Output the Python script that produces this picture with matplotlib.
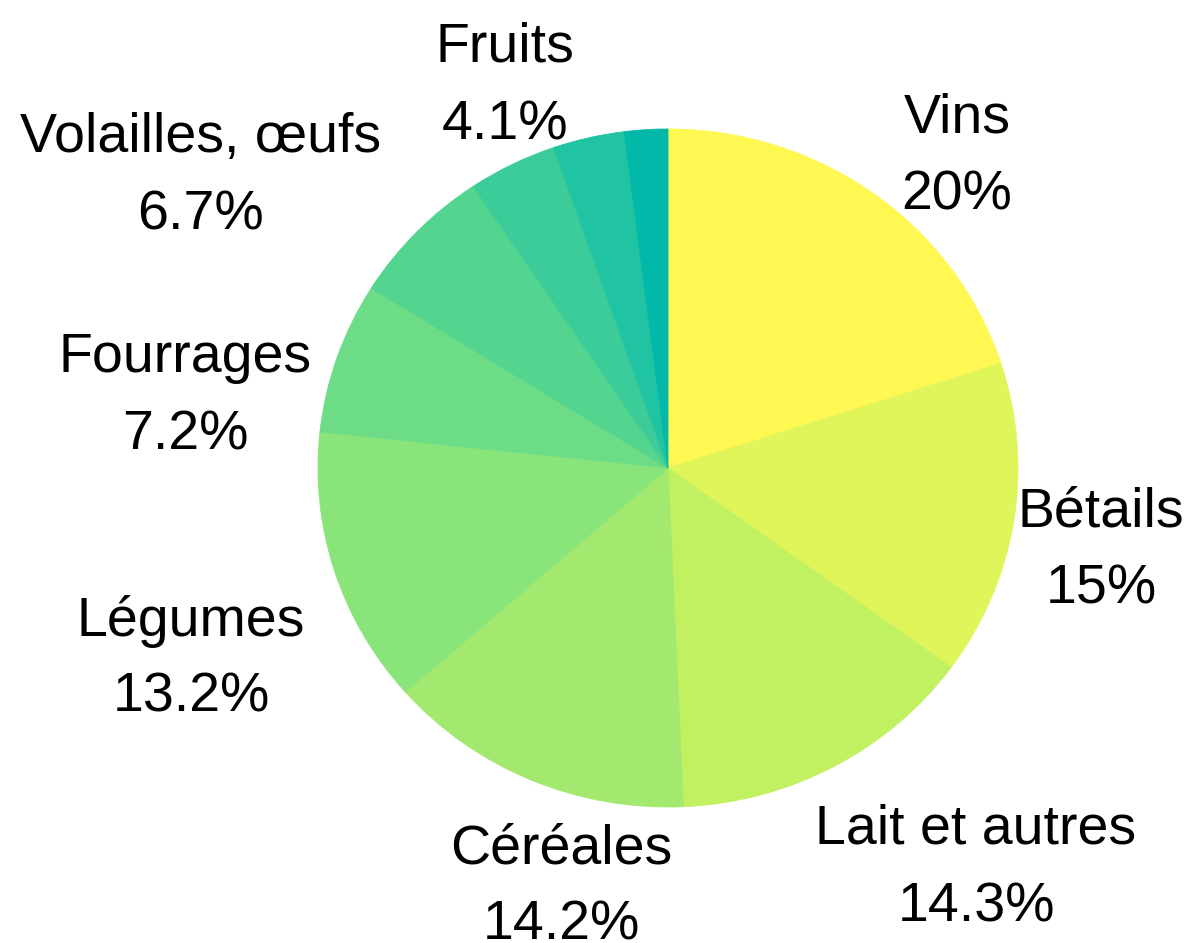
import matplotlib
matplotlib.use("Agg")
import matplotlib.pyplot as plt

# Data
categories = ["Vins", "Bétails", "Lait et autres", "Céréales", "Légumes",
              "Fourrages", "Volailles, œufs", "Fruits", "", ""]
values = [20, 15, 14.3, 14.2, 13.2, 7.2, 6.7, 4.1, 3.3, 2.0]
colors = ["#fff752", "#dff55a", "#c1f061", "#a4e96f", "#89e57a",
          "#6ddc87", "#53d48f", "#3ccc99", "#20c3a2", "#02b8a9"]

# Layout: label positions in pixels (centre x, baseline of name, baseline of pct)
label_pos = [(957, 133, 210), (1101, 527, 604), (976, 844, 922),
             (561, 863, 940), (191, 636, 712), (185, 372, 450),
             (201, 152, 230), (505, 62, 140), None, None]

W, H, DPI = 1191, 943, 100
cx, cy, rx, ry = 668, 468, 350, 339

fig = plt.figure(figsize=(W / DPI, H / DPI), dpi=DPI)
ax = fig.add_axes([0, 0, 1, 1])
ax.pie(values, colors=colors, startangle=90, counterclock=False,
       radius=1, center=(0, 0), normalize=True,
       wedgeprops=dict(linewidth=0.6, antialiased=True))
for w in ax.patches:
    w.set_edgecolor(w.get_facecolor())

ax.set_aspect("auto")
ax.set_xlim(-cx / rx, (W - cx) / rx)
ax.set_ylim((cy - H) / ry, cy / ry)
ax.axis("off")

def px2data(px, py):
    return (px - cx) / rx, (cy - py) / ry

font = dict(family=["Liberation Sans", "DejaVu Sans"], fontsize=40, color="black")
for name, val, pos in zip(categories, values, label_pos):
    if pos is None:
        continue
    x, y1 = px2data(pos[0], pos[1])
    _, y2 = px2data(pos[0], pos[2])
    ax.text(x, y1, name, ha="center", va="baseline", **font)
    ax.text(x, y2, f"{val:g}%", ha="center", va="baseline", **font)

fig.savefig("out.png", dpi=DPI, facecolor="white")
